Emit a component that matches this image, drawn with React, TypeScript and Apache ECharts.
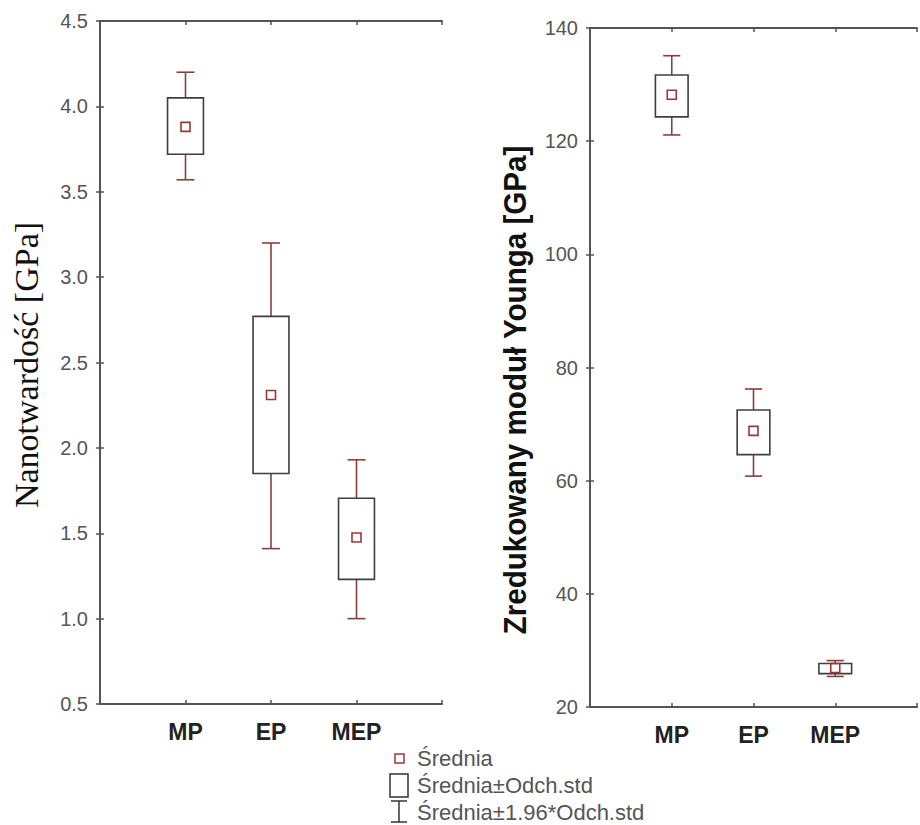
import React, { useEffect, useRef } from "react";
import * as echarts from "echarts";

const categories = ["MP", "EP", "MEP"];
const categoryPositions = [1, 2, 3];

const hardnessMean = [3.88, 2.31, 1.475];
const hardnessSdLow = [3.72, 1.85, 1.23];
const hardnessSdHigh = [4.05, 2.77, 1.705];
const hardnessCiLow = [3.57, 1.41, 1.0];
const hardnessCiHigh = [4.2, 3.2, 1.93];

const modulusMean = [128.2, 68.8, 26.9];
const modulusSdLow = [124.3, 64.6, 25.9];
const modulusSdHigh = [131.7, 72.5, 27.7];
const modulusCiLow = [121.1, 60.8, 25.4];
const modulusCiHigh = [135.1, 76.2, 28.2];

const legendLabels = ["Średnia", "Średnia±Odch.std", "Średnia±1.96*Odch.std"];
const titleLeft = "Nanotwardość [GPa]";
const titleRight = "Zredukowany moduł Younga [GPa]";

const FRAME = "#555555";
const BOX = "#3f3f3f";
const WHISK = "#8a3e3e";
const MEAN = "#9a3838";
const SANS = "'Liberation Sans', Arial, sans-serif";

function buildRows(mean: number[], sdL: number[], sdH: number[], ciL: number[], ciH: number[]) {
  return categoryPositions.map((x, i) => [x, mean[i], sdL[i], sdH[i], ciL[i], ciH[i]]);
}

function renderBox(boxW: number, capW: number) {
  return (params: any, api: any) => {
    const x = api.value(0);
    const pMean = api.coord([x, api.value(1)]);
    const pSL = api.coord([x, api.value(2)]);
    const pSH = api.coord([x, api.value(3)]);
    const pCL = api.coord([x, api.value(4)]);
    const pCH = api.coord([x, api.value(5)]);
    const hb = api.size([boxW, 0])[0] / 2;
    const hc = api.size([capW, 0])[0] / 2;
    const cx = pMean[0];
    const wStyle = { stroke: WHISK, lineWidth: 1.6, fill: null };
    return {
      type: "group",
      children: [
        { type: "line", shape: { x1: cx, y1: pCH[1], x2: cx, y2: pSH[1] }, style: wStyle },
        { type: "line", shape: { x1: cx - hc, y1: pCH[1], x2: cx + hc, y2: pCH[1] }, style: wStyle },
        { type: "line", shape: { x1: cx, y1: pSL[1], x2: cx, y2: pCL[1] }, style: wStyle },
        { type: "line", shape: { x1: cx - hc, y1: pCL[1], x2: cx + hc, y2: pCL[1] }, style: wStyle },
        {
          type: "rect",
          shape: { x: cx - hb, y: pSH[1], width: hb * 2, height: pSL[1] - pSH[1] },
          style: { stroke: BOX, lineWidth: 1.6, fill: "rgba(0,0,0,0)" },
        },
        {
          type: "rect",
          shape: { x: cx - 4.5, y: pMean[1] - 4.5, width: 9, height: 9 },
          style: { stroke: MEAN, lineWidth: 1.6, fill: "rgba(0,0,0,0)" },
        },
      ],
    };
  };
}

function xAxes(gridIndex: number) {
  const common = {
    type: "value",
    gridIndex,
    min: 0,
    max: 4,
    interval: 1,
    splitLine: { show: false },
    axisLine: { show: true, lineStyle: { color: FRAME, width: 2 } },
    axisTick: { show: true, inside: true, length: 4, lineStyle: { color: FRAME, width: 1.5 } },
  };
  return [
    {
      ...common,
      position: "bottom",
      axisLabel: {
        show: true,
        margin: 16,
        fontSize: 23,
        fontWeight: "bold",
        fontFamily: SANS,
        color: "#222",
        formatter: (v: number) => (v >= 1 && v <= 3 ? categories[v - 1] : ""),
      },
    },
    { ...common, position: "top", axisLabel: { show: false } },
  ];
}

function yAxes(gridIndex: number, min: number, max: number, interval: number, digits: number) {
  const common = {
    type: "value",
    gridIndex,
    min,
    max,
    interval,
    splitLine: { show: false },
    axisLine: { show: true, lineStyle: { color: FRAME, width: 2 } },
    axisTick: { show: true, inside: true, length: 4, lineStyle: { color: FRAME, width: 1.5 } },
  };
  return [
    {
      ...common,
      position: "left",
      axisLabel: {
        show: true,
        margin: 12,
        fontSize: 20,
        fontFamily: SANS,
        color: "#555",
        formatter: (v: number) => v.toFixed(digits),
      },
    },
    { ...common, position: "right", axisLabel: { show: false } },
  ];
}

export default function App() {
  const ref = useRef<HTMLDivElement>(null);
  useEffect(() => {
    if (!ref.current) return;
    const chart = echarts.init(ref.current, null, { renderer: "svg" });
    const option: any = {
      animation: false,
      backgroundColor: "#ffffff",
      grid: [
        { left: 100, top: 21, width: 342, height: 683 },
        { left: 590, top: 28, width: 336, height: 679 },
      ],
      xAxis: [...xAxes(0), ...xAxes(1)],
      yAxis: [...yAxes(0, 0.5, 4.5, 0.5, 1), ...yAxes(1, 20, 140, 20, 0)],
      series: [
        {
          type: "custom",
          xAxisIndex: 0,
          yAxisIndex: 0,
          renderItem: renderBox(0.42, 0.21),
          encode: { x: 0, y: [1, 2, 3, 4, 5] },
          data: buildRows(hardnessMean, hardnessSdLow, hardnessSdHigh, hardnessCiLow, hardnessCiHigh),
        },
        {
          type: "custom",
          xAxisIndex: 2,
          yAxisIndex: 2,
          renderItem: renderBox(0.4, 0.21),
          encode: { x: 0, y: [1, 2, 3, 4, 5] },
          data: buildRows(modulusMean, modulusSdLow, modulusSdHigh, modulusCiLow, modulusCiHigh),
        },
      ],
      graphic: [
        {
          type: "text",
          x: 26,
          y: 365,
          rotation: Math.PI / 2,
          style: {
            text: titleLeft,
            font: "34px 'Liberation Serif', 'Times New Roman', serif",
            fill: "#111",
            align: "center",
            verticalAlign: "middle",
            textAlign: "center",
            textVerticalAlign: "middle",
          },
        },
        {
          type: "text",
          x: 515,
          y: 390,
          rotation: Math.PI / 2,
          scaleX: 0.925,
          style: {
            text: titleRight,
            font: "bold 32px 'Liberation Sans', Arial, sans-serif",
            fill: "#111",
            align: "center",
            verticalAlign: "middle",
            textAlign: "center",
            textVerticalAlign: "middle",
          },
        },
        {
          type: "rect",
          shape: { x: 395, y: 754, width: 9, height: 9 },
          style: { stroke: MEAN, lineWidth: 1.5, fill: "rgba(0,0,0,0)" },
        },
        {
          type: "rect",
          shape: { x: 390, y: 774, width: 18, height: 23 },
          style: { stroke: "#333", lineWidth: 1.5, fill: "rgba(0,0,0,0)" },
        },
        { type: "line", shape: { x1: 399, y1: 801, x2: 399, y2: 822 }, style: { stroke: "#333", lineWidth: 1.5 } },
        { type: "line", shape: { x1: 391, y1: 801, x2: 407, y2: 801 }, style: { stroke: "#333", lineWidth: 1.5 } },
        { type: "line", shape: { x1: 391, y1: 822, x2: 407, y2: 822 }, style: { stroke: "#333", lineWidth: 1.5 } },
        ...legendLabels.map((t, i) => ({
          type: "text",
          x: 417,
          y: 758 + i * 27,
          style: {
            text: t,
            font: `22px ${SANS}`,
            fill: "#555",
            align: "left",
            verticalAlign: "middle",
            textAlign: "left",
            textVerticalAlign: "middle",
          },
        })),
      ],
    };
    chart.setOption(option);
    return () => chart.dispose();
  }, []);
  return (
    <div
      ref={ref}
      style={{ position: "absolute", left: 0, top: 0, width: 920, height: 825, background: "#fff" }}
    />
  );
}
